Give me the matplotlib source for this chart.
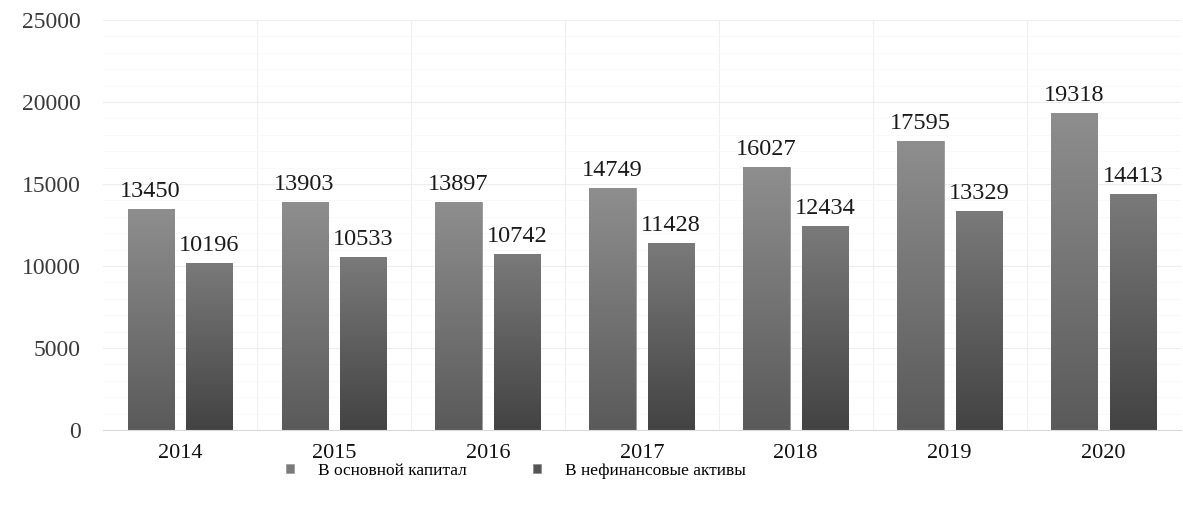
import numpy as np
import matplotlib
matplotlib.use("Agg")
import matplotlib.pyplot as plt
from matplotlib.patches import Patch
from matplotlib.colors import LinearSegmentedColormap

years = ["2014", "2015", "2016", "2017", "2018", "2019", "2020"]
fixed_capital = [13450, 13903, 13897, 14749, 16027, 17595, 19318]
nonfin_assets = [10196, 10533, 10742, 11428, 12434, 13329, 14413]
series_names = ["В основной капитал", "В нефинансовые активы"]
yticks = [0, 5000, 10000, 15000, 20000, 25000]

plt.rcParams['font.family'] = ['Liberation Serif', 'DejaVu Serif']

fig = plt.figure(figsize=(11.83, 5.07), dpi=100)
ax = fig.add_axes([0.087, 0.152, 0.911, 0.8086])

x = np.arange(len(years))
w = 0.30
gap = 0.08
b1 = ax.bar(x - (w + gap) / 2, fixed_capital, w, color="#757575", zorder=3)
b2 = ax.bar(x + (w + gap) / 2, nonfin_assets, w, color="#5e5e5e", zorder=3)

cm1 = LinearSegmentedColormap.from_list("c1", ["#5a5a5a", "#8e8e8e"])
cm2 = LinearSegmentedColormap.from_list("c2", ["#434343", "#7a7a7a"])
grad = np.linspace(0, 1, 256).reshape(-1, 1)
for bars, cm in ((b1, cm1), (b2, cm2)):
    for r in bars:
        x0, y0, ww, hh = r.get_x(), r.get_y(), r.get_width(), r.get_height()
        im = ax.imshow(grad, cmap=cm, origin="lower", aspect="auto",
                       extent=(x0, x0 + ww, y0, y0 + hh), zorder=4)
        im.set_clip_path(r)
        r.set_edgecolor("#9a9a9a")
        r.set_linewidth(0.6)

for bars, vals in ((b1, fixed_capital), (b2, nonfin_assets)):
    for r, v in zip(bars, vals):
        ax.annotate(f"{v}", (r.get_x() + r.get_width() / 2, v),
                    xytext=(0, 5), textcoords="offset points",
                    ha="center", va="bottom", fontsize=17.5, color="#1a1a1a", zorder=5)

ax.set_xlim(-0.5, len(years) - 0.5)
ax.set_ylim(0, 25000)
ax.set_yticks(yticks)
ax.set_yticklabels([str(t) for t in yticks], fontsize=17, color="#3a3a3a")
ax.set_xticks(x)
ax.set_xticklabels(years, fontsize=16, color="#111111")
ax.tick_params(axis="both", length=0)
ax.tick_params(axis="y", pad=16)
ax.tick_params(axis="x", pad=10)

ax.set_yticks(np.arange(0, 25001, 1000), minor=True)
ax.tick_params(axis="y", which="minor", length=0)
ax.grid(axis="y", which="major", color="#ededed", linewidth=0.8, zorder=0)
ax.grid(axis="y", which="minor", color="#f8f8f8", linewidth=0.6, zorder=0)
for b in np.arange(0.5, len(years) - 0.5, 1):
    ax.axvline(b, color="#efefef", linewidth=0.8, zorder=0)

for s in ("top", "right", "left"):
    ax.spines[s].set_visible(False)
ax.spines["bottom"].set_color("#d9d9d9")
ax.spines["bottom"].set_zorder(6)

handles = [Patch(facecolor="#7a7a7a", edgecolor="#9a9a9a", linewidth=0.5),
           Patch(facecolor="#555555", edgecolor="#8a8a8a", linewidth=0.5)]
fig.legend(handles, series_names, loc="center", ncol=2,
           bbox_to_anchor=(516 / 1183, 1 - 471 / 507), frameon=False,
           fontsize=12.5, handlelength=0.45, handleheight=0.45,
           handletextpad=1.4, columnspacing=3.8)

fig.savefig("out.png", dpi=100)
